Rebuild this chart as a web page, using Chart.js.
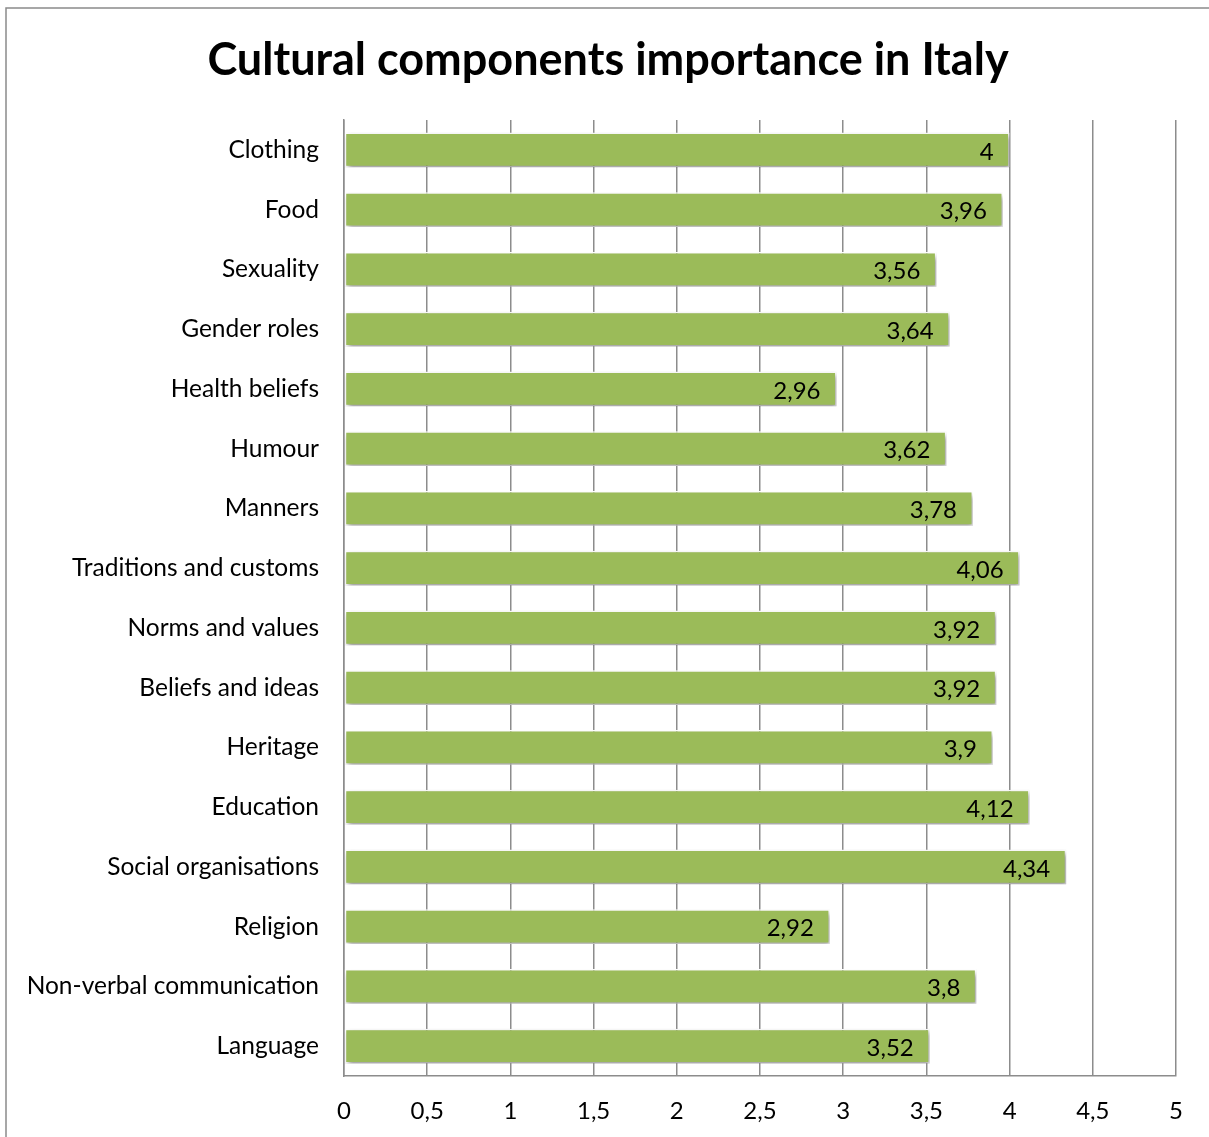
<!DOCTYPE html>
<html>
<head>
<meta charset="utf-8">
<script src="https://cdn.jsdelivr.net/npm/chart.js@4"></script>
<style>
  html, body { margin: 0; padding: 0; background: #fff; }
  #wrap { position: relative; width: 1209px; height: 1137px; }
</style>
</head>
<body>
<div id="wrap"><canvas id="chart" width="1209" height="1137"></canvas></div>
<script>
const categories = [
  'Clothing', 'Food', 'Sexuality', 'Gender roles', 'Health beliefs', 'Humour',
  'Manners', 'Traditions and customs', 'Norms and values', 'Beliefs and ideas',
  'Heritage', 'Education', 'Social organisations', 'Religion',
  'Non-verbal communication', 'Language'
];
const importance = [4, 3.96, 3.56, 3.64, 2.96, 3.62, 3.78, 4.06, 3.92, 3.92, 3.9, 4.12, 4.34, 2.92, 3.8, 3.52];
const xTicks = [0, 0.5, 1, 1.5, 2, 2.5, 3, 3.5, 4, 4.5, 5];
const titleText = 'Cultural components importance in Italy';

const FONT = 'Lato, "Open Sans", sans-serif';
const comma = v => String(v).replace('.', ',');

// outer frame and title of the picture
const framePlugin = {
  id: 'frame',
  beforeDraw(chart) {
    const ctx = chart.ctx;
    ctx.save();
    ctx.fillStyle = '#fff';
    ctx.fillRect(0, 0, chart.width, chart.height);
    ctx.strokeStyle = '#8a8a8a';
    ctx.lineWidth = 1.5;
    ctx.strokeRect(6, 8, chart.width + 10, chart.height + 10);
    ctx.fillStyle = '#000';
    ctx.font = 'bold 45px ' + FONT;
    ctx.textAlign = 'center';
    ctx.textBaseline = 'middle';
    ctx.fillText(titleText, 608, 60);
    ctx.restore();
  }
};

// soft shadow under the bars
const shadowPlugin = {
  id: 'barShadow',
  beforeDatasetsDraw(chart) {
    const ctx = chart.ctx;
    ctx.save();
    ctx.shadowColor = 'rgba(0,0,0,0.4)';
    ctx.shadowBlur = 5;
    ctx.shadowOffsetX = 2;
    ctx.shadowOffsetY = 3;
  },
  afterDatasetsDraw(chart) {
    chart.ctx.restore();
  }
};

// value labels inside the bar end
const valueLabels = {
  id: 'valueLabels',
  afterDatasetsDraw(chart) {
    const ctx = chart.ctx;
    const meta = chart.getDatasetMeta(0);
    ctx.save();
    ctx.font = '24px ' + FONT;
    ctx.fillStyle = '#000';
    ctx.textAlign = 'right';
    ctx.textBaseline = 'middle';
    meta.data.forEach((bar, i) => {
      ctx.fillText(comma(importance[i]), bar.x - 16, bar.y + 2);
    });
    ctx.restore();
  }
};

new Chart(document.getElementById('chart'), {
  type: 'bar',
  data: {
    labels: categories,
    datasets: [{
      data: importance,
      backgroundColor: '#9BBB59',
      borderColor: '#ffffff',
      borderWidth: 1.5,
      borderSkipped: false,
      categoryPercentage: 1,
      barPercentage: 0.58
    }]
  },
  options: {
    indexAxis: 'y',
    responsive: false,
    animation: false,
    layout: { padding: { left: 0, right: 33, top: 120, bottom: 0 } },
    plugins: {
      legend: { display: false },
      tooltip: { enabled: false },
      title: { display: false }
    },
    scales: {
      x: {
        min: 0,
        max: 5,
        afterBuildTicks(scale) { scale.ticks = xTicks.map(v => ({ value: v })); },
        afterFit(scale) { scale.height = 61; },
        grid: { color: '#8c8c8c', lineWidth: 1.5, drawTicks: false },
        border: { color: '#8c8c8c', width: 1.5 },
        ticks: {
          color: '#000',
          padding: 21,
          font: { family: FONT, size: 24 },
          callback: v => comma(v)
        }
      },
      y: {
        afterFit(scale) { scale.width = 344; },
        grid: { display: false, drawTicks: false },
        border: { color: '#8c8c8c', width: 1.5 },
        ticks: {
          color: '#000',
          padding: 25,
          font: { family: FONT, size: 24.5 }
        }
      }
    }
  },
  plugins: [framePlugin, shadowPlugin, valueLabels]
});
</script>
</body>
</html>
